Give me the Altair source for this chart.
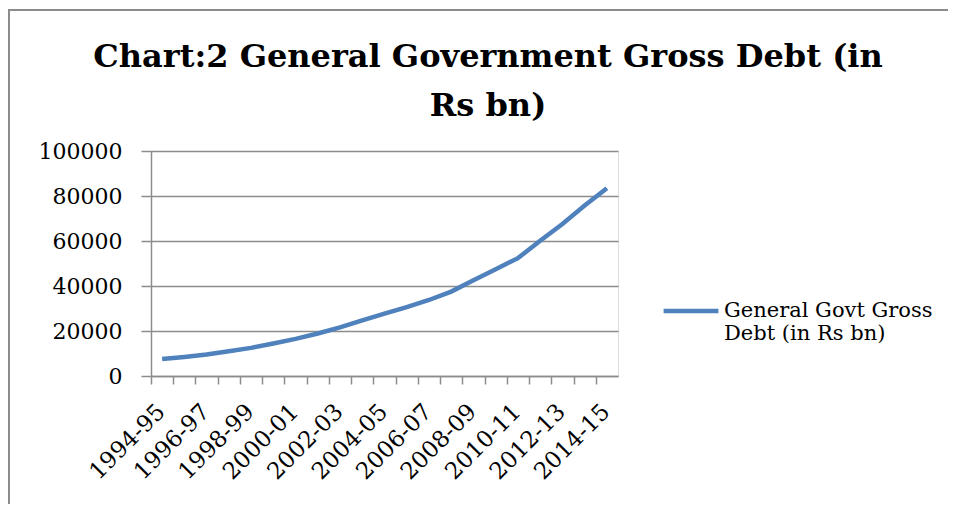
import altair as alt
import pandas as pd

years = ["1994-95", "1995-96", "1996-97", "1997-98", "1998-99", "1999-00", "2000-01",
         "2001-02", "2002-03", "2003-04", "2004-05", "2005-06", "2006-07", "2007-08",
         "2008-09", "2009-10", "2010-11", "2011-12", "2012-13", "2013-14", "2014-15"]
debt = [7590, 8480, 9520, 11010, 12500, 14430, 16520, 18900, 21580, 24700, 27680,
        30650, 33780, 37500, 42560, 47470, 52380, 60120, 67560, 75740, 83480]
series_name = "General Govt Gross Debt (in Rs bn)"
title_lines = ["Chart:2 General Government Gross Debt (in", "Rs bn)"]
y_ticks = [0, 20000, 40000, 60000, 80000, 100000]

df = pd.DataFrame({"year": years, "debt": debt, "series": [series_name] * len(years)})

FONT = "DejaVu Serif"
GRID = "#8c8c8c"

W, H = 467, 225
PL, PT = 143, 143
HALF_STEP = W / len(years) / 2

line = alt.Chart(df).mark_line(strokeWidth=4.5).encode(
    x=alt.X("year:O", sort=years, title=None,
            scale=alt.Scale(type="point", padding=0.5),
            axis=alt.Axis(labelAngle=-45, tickSize=8, tickColor=GRID, tickWidth=1.5,
                          tickOffset=-HALF_STEP, labelOffset=HALF_STEP - 9,
                          domainColor=GRID, domainWidth=1.5,
                          labelFont=FONT, labelFontSize=23, labelColor="black",
                          labelPadding=16,
                          labelExpr="toNumber(slice(datum.value,0,4)) % 2 == 0 ? datum.value : ''")),
    y=alt.Y("debt:Q", title=None, scale=alt.Scale(domain=[0, 100000], nice=False),
            axis=alt.Axis(values=y_ticks, grid=True, gridColor=GRID, gridWidth=1.5,
                          tickSize=10, tickColor=GRID, tickWidth=1.5, domainColor=GRID,
                          domainWidth=1.5, labelFont=FONT, labelFontSize=22,
                          labelColor="black", labelPadding=19, format="d")),
    color=alt.Color("series:N", scale=alt.Scale(range=["#4F81BD"]),
                    legend=alt.Legend(title=None, orient="none", legendX=510, legendY=130,
                                      symbolType="stroke", symbolSize=3000,
                                      symbolStrokeWidth=4.5,
                                      labelFont=FONT, labelFontSize=21, labelColor="black",
                                      labelOffset=3, labelLimit=400,
                                      labelExpr="[slice(datum.label,0,18), slice(datum.label,19)]")),
)

one_row = alt.Data(values=[{"a": 1}])

frame = alt.Chart(one_row).mark_rect(
    fillOpacity=0, stroke=GRID, strokeWidth=2
).encode(
    x=alt.value(-142), x2=alt.value(900), y=alt.value(-141), y2=alt.value(500)
)

title1 = alt.Chart(one_row).mark_text(
    text=title_lines[0], font=FONT, fontSize=32, fontWeight="bold", color="black",
    align="center", baseline="alphabetic"
).encode(x=alt.value(337), y=alt.value(-84))

title2 = alt.Chart(one_row).mark_text(
    text=title_lines[1], font=FONT, fontSize=32, fontWeight="bold", color="black",
    align="center", baseline="alphabetic"
).encode(x=alt.value(337), y=alt.value(-35))

chart = alt.layer(frame, title1, title2, line).properties(
    width=W, height=H,
    padding={"left": PL, "top": PT, "right": 940 - PL - W, "bottom": 496 - PT - H},
    autosize=alt.AutoSizeParams(type="none"),
).configure_view(stroke=None).configure(background="white")

chart.save("out.html", embed_options={"renderer": "svg", "actions": False})
